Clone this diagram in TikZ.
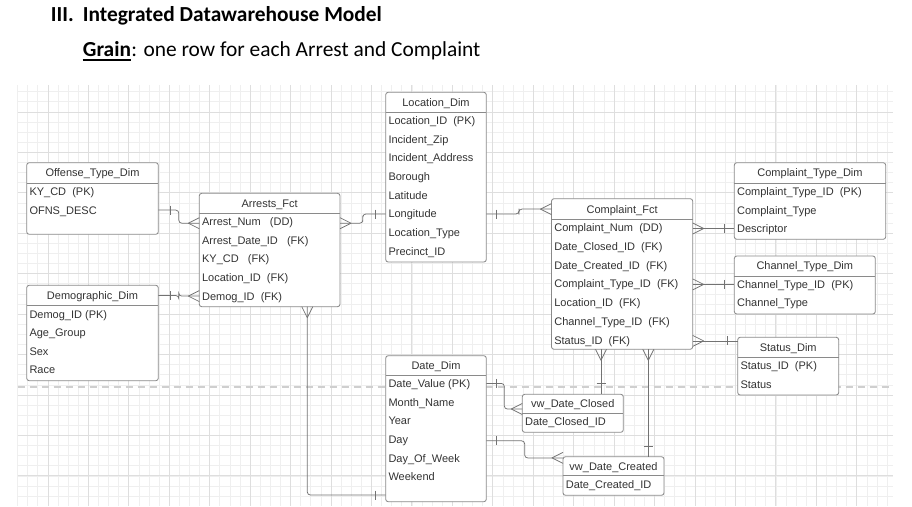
\documentclass[tikz,border=0pt]{standalone}
\usepackage{fontspec}
\setmainfont{Carlito}
\newfontfamily\tblfont{Liberation Sans}
\usetikzlibrary{calc}
\definecolor{gridfine}{HTML}{EFEFEF}
\definecolor{gridmajor}{HTML}{DEDEDE}
\definecolor{boxline}{HTML}{8A8A8A}
\definecolor{connline}{HTML}{727272}
\definecolor{tbltext}{HTML}{333333}
\definecolor{pgbreak}{HTML}{CFCFCF}
\tikzset{
  tblbox/.style={draw=boxline, line width=0.85pt, fill=white, rounded corners=2.5pt, inner sep=0pt, outer sep=0pt},
  tblline/.style={draw=boxline, line width=0.85pt},
  tbltitle/.style={font=\tblfont\fontsize{11}{13}\selectfont, text=tbltext, inner sep=0pt, text height=7.9pt, text depth=0pt},
  tblrow/.style={tbltitle, anchor=west},
  conn/.style={draw=connline, line width=0.75pt, rounded corners=3pt},
  footline/.style={draw=connline, line width=0.75pt, line join=round},
  gridf/.style={draw=gridfine, line width=0.8pt},
  gridm/.style={draw=gridmajor, line width=1pt},
  headtext/.style={inner sep=0pt, anchor=base west, text=black},
}
\newcommand\ertable[9]{%
  \node[tblbox, anchor=north west, minimum width={(#4-#2)*1pt}, minimum height={(#5-#3)*1pt}] (#1) at (#2,-#3) {};
  \draw[tblline] (#1.west |- 0,-#6) -- (#1.east |- 0,-#6);
  \node[tbltitle] (#1-t) at ({(#2+#4)/2},{-(#3+#6)/2}) {#7};
  \foreach \r [count=\i] in {#9} {\node[tblrow] (#1-\i) at ({#2+2.6},{-(#6+8.4+(\i-1)*#8)}) {\r};}
}
\newcommand\crowL[1]{\draw[footline] ($(#1)+(0,5.5)$) -- ($(#1)+(-11,0)$) -- ($(#1)+(0,-5.5)$);}
\newcommand\crowR[1]{\draw[footline] ($(#1)+(0,5.5)$) -- ($(#1)+(11,0)$) -- ($(#1)+(0,-5.5)$);}
\newcommand\crowD[1]{\draw[footline] ($(#1)+(-5.5,0)$) -- ($(#1)+(0,-11)$) -- ($(#1)+(5.5,0)$);}
\newcommand\tickH[2]{\draw[footline] ($(#1)+(#2,4.5)$) -- ($(#1)+(#2,-4.5)$);}
\newcommand\tickV[2]{\draw[footline] ($(#1)+(-4.5,#2)$) -- ($(#1)+(4.5,#2)$);}
\begin{document}
\begin{tikzpicture}[x=1pt,y=1pt]
\useasboundingbox (0,0) rectangle (912,-506);
\fill[white] (0,0) rectangle (912,-506);
% grid
\foreach \k in {-3,...,83} {\draw[gridf] ({48+\k*10.11},-85) -- ({48+\k*10.11},-506);}
\foreach \k in {-2,...,38} {\draw[gridf] (17.7,{-(112+\k*10.11)}) -- (893,{-(112+\k*10.11)});}
\foreach \k in {0,...,20} {\draw[gridm] ({48+\k*40.44},-85) -- ({48+\k*40.44},-506);}
\foreach \k in {0,...,9} {\draw[gridm] (17.7,{-(112+\k*40.44)}) -- (893,{-(112+\k*40.44)});}
% page break line
\coordinate (pbA) at (17.7,-387);
\coordinate (pbB) at (893,-387);
\draw[draw=pgbreak, line width=1.2pt, dash pattern=on 7pt off 5pt] (pbA) -- (pbB);
% headings
\node[headtext, font=\bfseries\fontsize{21.4}{25}\selectfont] (h1a) at (50.7,-21.7) {III.};
\node[headtext, font=\bfseries\fontsize{21.4}{25}\selectfont] (h1b) at (82.7,-21.7) {Integrated Datawarehouse Model};
\node[headtext, font=\bfseries\fontsize{21.4}{25}\selectfont] (g1) at (82.7,-56.7) {Grain};
\node[headtext, font=\fontsize{21.4}{25}\selectfont] (g2) at (g1.base east) {: one row for each Arrest and Complaint};
\draw[line width=1.9pt] ($(g1.base west)+(0,-3.4)$) -- ($(g1.base east)+(0,-3.4)$);
% tables
\ertable{ofn}{26.7}{162.7}{158.3}{234.3}{183.3}{Offense\_Type\_Dim}{18.4}{KY\_CD~~(PK),OFNS\_DESC}
\ertable{arr}{199.3}{193.3}{340}{306.7}{213.3}{Arrests\_Fct}{18.6}{Arrest\_Num~~~(DD),Arrest\_Date\_ID~~~(FK),KY\_CD~~~(FK),Location\_ID~~(FK),Demog\_ID~~(FK)}
\ertable{dem}{26.7}{285.3}{158.3}{380.7}{305.7}{Demographic\_Dim}{18.6}{Demog\_ID (PK),Age\_Group,Sex,Race}
\ertable{loc}{385.7}{92.3}{486.3}{262}{112.3}{Location\_Dim}{18.66}{Location\_ID~~(PK),Incident\_Zip,Incident\_Address,Borough,Latitude,Longitude,Location\_Type,Precinct\_ID}
\ertable{cmp}{551.5}{198.7}{692.7}{349.3}{219.5}{Complaint\_Fct}{18.7}{Complaint\_Num~~(DD),Date\_Closed\_ID~~(FK),Date\_Created\_ID~~(FK),Complaint\_Type\_ID~~(FK),Location\_ID~~(FK),Channel\_Type\_ID~~(FK),Status\_ID~~(FK)}
\ertable{ctd}{734.3}{162.7}{885.7}{239.3}{183.3}{Complaint\_Type\_Dim}{18.4}{Complaint\_Type\_ID~~(PK),Complaint\_Type,Descriptor}
\ertable{chd}{734.3}{256}{875.3}{314}{276}{Channel\_Type\_Dim}{18.5}{Channel\_Type\_ID~~(PK),Channel\_Type}
\ertable{std}{737.7}{337.3}{838.7}{395}{357.3}{Status\_Dim}{18.4}{Status\_ID~~(PK),Status}
\ertable{dat}{385.7}{355.7}{486.3}{501.7}{375}{Date\_Dim}{18.68}{Date\_Value (PK),Month\_Name,Year,Day,Day\_Of\_Week,Weekend}
\ertable{vdc}{522.3}{394.3}{623.3}{432.3}{413.3}{vw\_Date\_Closed}{18.6}{Date\_Closed\_ID}
\ertable{vdr}{563}{456.7}{664}{495.3}{475.7}{vw\_Date\_Created}{18.6}{Date\_Created\_ID}
% connector end points
\coordinate (c1s) at (ofn.east |- ofn-2);
\coordinate (c1e) at ($(arr.west |- arr-1)+(0,-1.5)$);
\coordinate (c2s) at (dem.east |- dem-t);
\coordinate (c2e) at (arr.west |- arr-5);
\coordinate (c3s) at ($(arr.east |- arr-1)+(0,-1.5)$);
\coordinate (c3e) at (loc.west |- loc-6);
\coordinate (c4s) at (loc.east |- loc-6);
\coordinate (c4e) at (cmp.west |- cmp-t);
\coordinate (c5s) at (cmp.east |- ctd-3);
\coordinate (c5e) at (ctd.west |- ctd-3);
\coordinate (c6s) at (cmp.east |- chd-1);
\coordinate (c6e) at (chd.west |- chd-1);
\coordinate (c7s) at ($(cmp.east |- cmp-7)+(0,-0.8)$);
\coordinate (c7e) at (std.west |- c7s);
\coordinate (c8s) at ($(arr.south west)+(108,0)$);
\coordinate (c8e) at ($(dat.south west)+(0,6.7)$);
\coordinate (c9s) at ($(cmp.south west)+(49.5,0)$);
\coordinate (c9e) at (c9s |- vdc.north);
\coordinate (c10s) at ($(cmp.south west)+(96.8,0)$);
\coordinate (c10e) at (c10s |- vdr.north);
\coordinate (c11s) at (dat.east |- dat-1);
\coordinate (c11e) at ($(vdc.north west)+(0,-14.7)$);
\coordinate (c12s) at ($(dat.east |- dat-4)+(0,-1.4)$);
\coordinate (c12e) at ($(vdr.north west)+(0,-1.2)$);
% connectors
\draw[conn] (c1s) -| ($(c1s)!0.5!(c1e)$) |- (c1e);
\draw[conn] (c2s) -| ($(c2s)!0.5!(c2e)$) |- (c2e);
\draw[conn] (c3s) -| ($(c3s)!0.5!(c3e)$) |- (c3e);
\draw[conn] (c4s) -| ($(c4s)!0.5!(c4e)$) |- (c4e);
\draw[conn] (c5s) -- (c5e);
\draw[conn] (c6s) -- (c6e);
\draw[conn] (c7s) -- (c7e);
\draw[conn] (c8s) |- (c8e);
\draw[conn] (c9s) -- (c9e);
\draw[conn] (c10s) -- (c10e);
\draw[conn] (c11s) -| ($(c11s)!0.5!(c11e)$) |- (c11e);
\draw[conn] (c12s) -| ($(c12s)!0.5!(c12e)$) |- (c12e);
% crow's feet (many) and bars (one)
\tickH{c1s}{11.7}  \crowL{c1e}
\tickH{c2s}{11.7}  \crowL{c2e}
\crowR{c3s}        \tickH{c3e}{-10.4}
\tickH{c4s}{10.4}  \crowL{c4e}
\crowR{c5s}        \tickH{c5e}{-10}
\crowR{c6s}        \tickH{c6e}{-10}
\crowR{c7s}        \tickH{c7e}{-10.4}
\crowD{c8s}        \tickH{c8e}{-10.7}
\crowD{c9s}        \tickV{c9e}{11}
\crowD{c10s}       \tickV{c10e}{10}
\tickH{c11s}{10.4} \crowL{c11e}
\tickH{c12s}{10.4} \crowL{c12e}
\end{tikzpicture}
\end{document}
